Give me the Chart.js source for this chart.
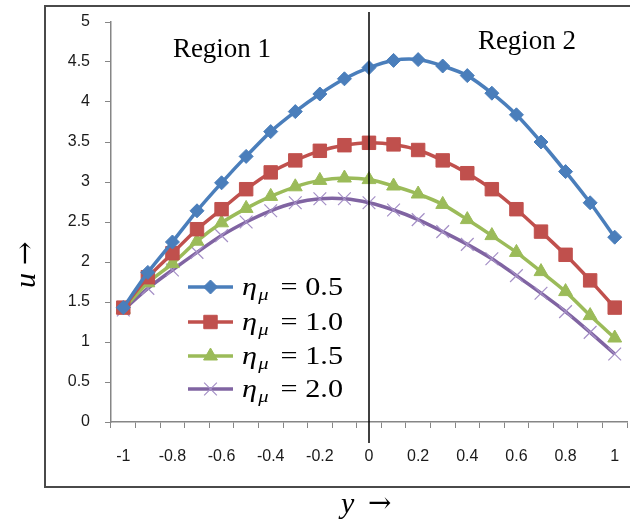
<!DOCTYPE html>
<html>
<head>
<meta charset="utf-8">
<script src="https://cdn.jsdelivr.net/npm/chart.js@4"></script>
<style>
  html, body { margin: 0; padding: 0; background: #fff; }
  canvas { display: block; }
</style>
</head>
<body>
<canvas id="chart" width="630" height="524"></canvas>
<script>
// y positions (categories) along the channel
const yLabels = ['-1', '-0.9', '-0.8', '-0.7', '-0.6', '-0.5', '-0.4', '-0.3', '-0.2', '-0.1',
                 '0', '0.1', '0.2', '0.3', '0.4', '0.5', '0.6', '0.7', '0.8', '0.9', '1'];

// velocity u for each eta_mu
const u05 = [1.43, 1.87, 2.25, 2.64, 2.99, 3.32, 3.63, 3.88, 4.10, 4.29, 4.43,
             4.52, 4.53, 4.45, 4.33, 4.11, 3.84, 3.50, 3.13, 2.74, 2.31];
const u10 = [1.43, 1.81, 2.11, 2.41, 2.66, 2.91, 3.12, 3.27, 3.39, 3.46, 3.49,
             3.47, 3.40, 3.27, 3.11, 2.91, 2.66, 2.38, 2.09, 1.77, 1.43];
const u15 = [1.41, 1.74, 1.98, 2.26, 2.49, 2.67, 2.82, 2.94, 3.02, 3.05, 3.03,
             2.95, 2.85, 2.72, 2.53, 2.33, 2.12, 1.88, 1.63, 1.33, 1.05];
const u20 = [1.40, 1.67, 1.90, 2.12, 2.33, 2.50, 2.64, 2.74, 2.79, 2.79, 2.74,
             2.65, 2.53, 2.38, 2.22, 2.04, 1.83, 1.61, 1.38, 1.12, 0.85];

const etaLabels = ['0.5', '1.0', '1.5', '2.0'];
const yTicks = [0, 0.5, 1, 1.5, 2, 2.5, 3, 3.5, 4, 4.5, 5];

const blue = '#4a7ebb', red = '#c0504d', green = '#9bbb59', purple = '#8064a2';
const axisGrey = '#868686';

function series(data, color, style, radius, pointColor, pointWidth) {
    return {
        data: data,
        borderColor: color,
        backgroundColor: color,
        borderWidth: 3.5,
        tension: 0.25,
        pointStyle: style,
        pointRadius: radius,
        pointBackgroundColor: color,
        pointBorderColor: pointColor || color,
        pointBorderWidth: pointWidth || 1
    };
}

const datasets = [
    series(u05, blue, 'rectRot', 7),
    series(u10, red, 'rect', 9.5),
    series(u15, green, 'triangle', 8),
    series(u20, purple, 'crossRot', 9, '#a48fc6', 1.2)
];

// frame, region labels, zero line, axis titles and legend
const decorations = {
    id: 'decorations',
    beforeDraw(chart) {
        const ctx = chart.ctx;
        ctx.save();
        ctx.fillStyle = '#fff';
        ctx.fillRect(0, 0, chart.width, chart.height);
        ctx.restore();
    },
    afterDatasetsDraw(chart) {
        const ctx = chart.ctx;
        const x0 = chart.scales.x.getPixelForValue(yLabels.indexOf('0'));
        ctx.save();
        ctx.strokeStyle = '#000';
        ctx.lineWidth = 1.5;
        ctx.beginPath();
        ctx.moveTo(x0, 12);
        ctx.lineTo(x0, 443);
        ctx.stroke();
        ctx.restore();
    },
    afterDraw(chart) {
        const ctx = chart.ctx;
        ctx.save();

        // outer frame (right edge is cut off in the original)
        ctx.strokeStyle = '#4a4a4a';
        ctx.lineWidth = 2;
        ctx.beginPath();
        ctx.moveTo(640, 6);
        ctx.lineTo(45, 6);
        ctx.lineTo(45, 487);
        ctx.lineTo(640, 487);
        ctx.stroke();

        // region labels
        ctx.fillStyle = '#000';
        ctx.font = '27px "Liberation Serif", serif';
        ctx.textAlign = 'center';
        ctx.textBaseline = 'alphabetic';
        ctx.fillText('Region 1', 222, 57);
        ctx.fillText('Region 2', 527, 49);

        // axis titles
        ctx.font = 'italic 30px "Liberation Serif", serif';
        ctx.textAlign = 'left';
        ctx.fillText('y', 341, 513);
        ctx.font = '28px "DejaVu Serif", serif';
        ctx.fillText('\u2192', 368, 512);

        ctx.save();
        ctx.translate(35, 255);
        ctx.rotate(-Math.PI / 2);
        ctx.font = 'italic 30px "Liberation Serif", serif';
        ctx.textAlign = 'left';
        ctx.fillText('u', -33, 0);
        ctx.font = '28px "DejaVu Serif", serif';
        ctx.fillText('\u2192', -10, -1);
        ctx.restore();

        // legend
        const rowY = [287, 322, 356, 389];
        datasets.forEach((ds, i) => {
            const y = rowY[i];
            ctx.strokeStyle = ds.borderColor;
            ctx.lineWidth = 3.5;
            ctx.beginPath();
            ctx.moveTo(188, y);
            ctx.lineTo(233, y);
            ctx.stroke();
            ctx.fillStyle = ds.pointBackgroundColor;
            ctx.strokeStyle = ds.pointBorderColor;
            ctx.lineWidth = ds.pointBorderWidth;
            Chart.helpers.drawPoint(ctx, {
                pointStyle: ds.pointStyle,
                radius: ds.pointRadius,
                borderWidth: ds.pointBorderWidth,
                rotation: 0
            }, 210.5, y);

            // eta_mu = value, stretched to the original width
            ctx.save();
            ctx.fillStyle = '#000';
            ctx.textBaseline = 'alphabetic';
            ctx.textAlign = 'left';
            const big = 'italic 25px "Liberation Serif", serif';
            const small = 'italic 17px "Liberation Serif", serif';
            const reg = '25px "Liberation Serif", serif';
            ctx.font = big; const w1 = ctx.measureText('\u03b7').width;
            ctx.font = small; const w2 = ctx.measureText('\u03bc').width;
            ctx.font = reg; const w3 = ctx.measureText('\u2009= ' + etaLabels[i]).width;
            const total = w1 + w2 + 6 + w3;
            ctx.translate(242, y + 8);
            ctx.scale(101 / total, 1);
            ctx.font = big; ctx.fillText('\u03b7', 0, 0);
            ctx.font = small; ctx.fillText('\u03bc', w1 + 1, 5);
            ctx.font = reg; ctx.fillText('\u2009= ' + etaLabels[i], w1 + w2 + 6, 0);
            ctx.restore();
        });

        ctx.restore();
    }
};

new Chart(document.getElementById('chart'), {
    type: 'line',
    data: { labels: yLabels, datasets: datasets },
    options: {
        responsive: false,
        animation: false,
        layout: { autoPadding: false, padding: { left: 45, top: 22, right: 3, bottom: 0 } },
        plugins: { legend: { display: false }, tooltip: { enabled: false } },
        scales: {
            x: {
                type: 'category',
                offset: true,
                afterFit: (scale) => {
                    scale.height = 102;
                    scale.paddingLeft = 0;
                    scale.paddingRight = 0;
                },
                grid: {
                    offset: true,
                    drawOnChartArea: false,
                    drawTicks: true,
                    tickLength: 6,
                    color: axisGrey
                },
                border: { color: axisGrey, width: 1.5 },
                ticks: {
                    autoSkip: false,
                    maxRotation: 0,
                    padding: 0,
                    color: '#1a1a1a',
                    // tall line height pushes the labels down without adding side padding
                    font: { family: '"Liberation Sans", sans-serif', size: 16, lineHeight: 3.6 },
                    callback: (v, i) => (i % 2 === 0 ? yLabels[i] : '')
                }
            },
            y: {
                min: 0,
                max: 5,
                afterFit: (scale) => {
                    scale.width = 66;
                    scale.paddingTop = 0;
                    scale.paddingBottom = 0;
                },
                afterBuildTicks: (scale) => { scale.ticks = yTicks.map(v => ({ value: v })); },
                grid: {
                    drawOnChartArea: false,
                    drawTicks: true,
                    tickLength: 6,
                    color: axisGrey
                },
                border: { color: axisGrey, width: 1.5 },
                ticks: {
                    padding: 15,
                    color: '#1a1a1a',
                    font: { family: '"Liberation Sans", sans-serif', size: 16 },
                    callback: (v) => String(v)
                }
            }
        }
    },
    plugins: [decorations]
});
</script>
</body>
</html>
